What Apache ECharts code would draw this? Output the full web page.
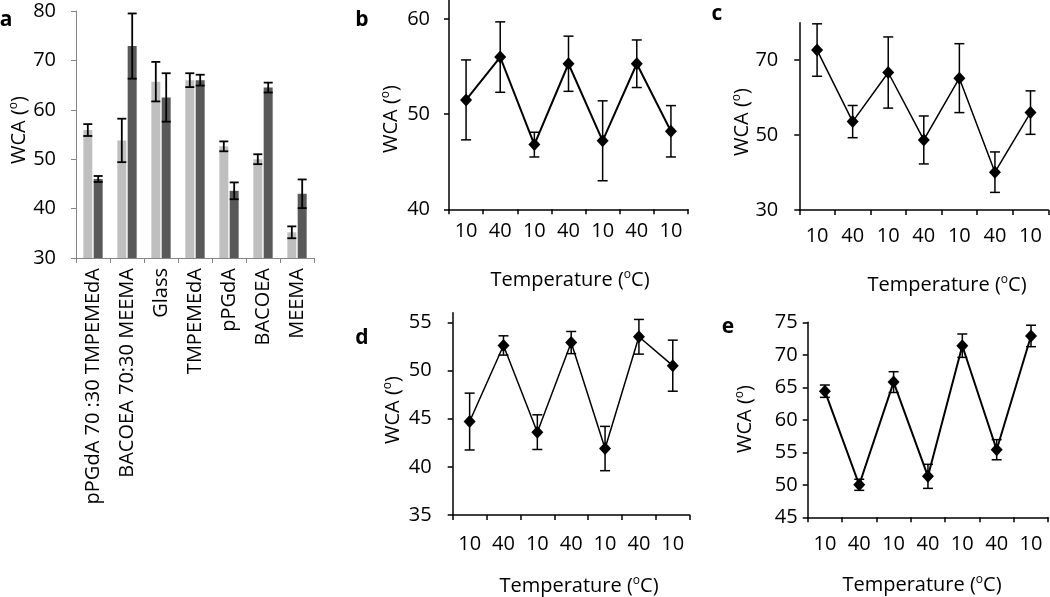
<!DOCTYPE html>
<html>
<head>
<meta charset="utf-8">
<script src="https://cdn.jsdelivr.net/npm/echarts@6/dist/echarts.min.js"></script>
<style>
html,body{margin:0;padding:0;background:#fff;}
#chart{width:1050px;height:597px;}
</style>
</head>
<body>
<div id="chart"></div>
<script>
// ---- data ----
const catsA = ['pPGdA 70 :30 TMPEMEdA', 'BACOEA 70:30 MEEMA', 'Glass', 'TMPEMEdA', 'pPGdA', 'BACOEA', 'MEEMA'];
const lightA = [55.9, 53.8, 65.7, 66.0, 52.6, 50.0, 35.2];
const lightErrA = [1.2, 4.4, 4.0, 1.4, 1.0, 1.0, 1.2];
const darkA = [46.0, 72.9, 62.5, 66.0, 43.6, 64.5, 43.0];
const darkErrA = [0.6, 6.6, 4.9, 1.1, 1.7, 1.0, 2.9];

const tempCats = ['10', '40', '10', '40', '10', '40', '10'];
const wcaB = [51.5, 56.0, 46.8, 55.3, 47.2, 55.3, 48.2];
const errB = [4.2, 3.7, 1.3, 2.9, 4.2, 2.5, 2.7];
const wcaC = [72.7, 53.6, 66.7, 48.7, 65.2, 40.1, 56.0];
const errC = [7.0, 4.3, 9.5, 6.4, 9.2, 5.4, 5.8];
const wcaD = [44.7, 52.6, 43.6, 52.9, 41.9, 53.5, 50.5];
const errD = [2.95, 1.0, 1.8, 1.15, 2.3, 1.8, 2.65];
const wcaE = [64.4, 50.0, 65.8, 51.3, 71.4, 55.4, 72.9];
const errE = [0.95, 0.85, 1.6, 1.85, 1.8, 1.55, 1.65];

// ---- styling ----
const FONT = 'Open Sans';
const FS = 20;
const chart = echarts.init(document.getElementById('chart'), null, {renderer: 'canvas'});

function errData(vals, errs) { return vals.map((v, i) => [i, v, errs[i]]); }
function errRender(offset, cap, lw) {
  return function (params, api) {
    const i = api.value(0), v = api.value(1), e = api.value(2);
    const hi = api.coord([i, v + e]);
    const lo = api.coord([i, v - e]);
    const x = hi[0] + offset;
    const st = {stroke: '#000', lineWidth: lw};
    return {type: 'group', children: [
      {type: 'line', shape: {x1: x, y1: hi[1], x2: x, y2: lo[1]}, style: st},
      {type: 'line', shape: {x1: x - cap, y1: hi[1], x2: x + cap, y2: hi[1]}, style: st},
      {type: 'line', shape: {x1: x - cap, y1: lo[1], x2: x + cap, y2: lo[1]}, style: st}
    ]};
  };
}

const grids = [
  {left: 76, top: 11, width: 238, height: 247},
  {left: 449, top: 0, width: 239, height: 209.3},
  {left: 799.3, top: 22.7, width: 249, height: 187.3},
  {left: 452.7, top: 312.7, width: 237, height: 202.3},
  {left: 807.7, top: 322.3, width: 240.5, height: 195}
];

const yRanges = [
  {min: 30, max: 80, interval: 10, margin: 20},
  {min: 40, max: 62, interval: 10, margin: 19},
  {min: 30, max: 80, interval: 20, margin: 21},
  {min: 35, max: 56, interval: 5, margin: 21},
  {min: 45, max: 75, interval: 5, margin: 10}
];
const xMargins = [10, 12, 16, 19, 17];

const xAxes = grids.map((g, k) => ({
  type: 'category', gridIndex: k,
  data: k === 0 ? catsA : tempCats,
  boundaryGap: true,
  axisLine: {lineStyle: {color: k === 0 ? '#868686' : '#000', width: k === 0 ? 1 : 1.5}},
  axisTick: {show: true, length: 5, alignWithLabel: false, interval: 0,
    lineStyle: {color: k === 0 ? '#868686' : '#000', width: k === 0 ? 1 : 1.5}},
  axisLabel: {show: true, interval: 0, rotate: k === 0 ? 90 : 0, margin: xMargins[k],
    color: '#000', fontFamily: FONT, fontSize: FS},
  splitLine: {show: false}
}));

const yAxes = grids.map((g, k) => ({
  type: 'value', gridIndex: k,
  min: yRanges[k].min, max: yRanges[k].max, interval: yRanges[k].interval,
  axisLine: {show: true, lineStyle: {color: k === 0 ? '#868686' : '#000', width: k === 0 ? 1 : 1.5}},
  axisTick: {show: true, length: 5, lineStyle: {color: k === 0 ? '#868686' : '#000', width: k === 0 ? 1 : 1.5}},
  axisLabel: {margin: yRanges[k].margin, color: '#000', fontFamily: FONT, fontSize: FS,
    showMaxLabel: (k === 0 || k === 4)},
  splitLine: {show: false}
}));

function lineSeries(k, vals, lw) {
  return {
    type: 'line', xAxisIndex: k, yAxisIndex: k, data: vals,
    symbol: 'diamond', symbolSize: [12, 13],
    lineStyle: {color: '#000', width: lw},
    itemStyle: {color: '#000'},
    animation: false, z: 3
  };
}
function errSeries(k, vals, errs, offset, cap, lw) {
  return {
    type: 'custom', xAxisIndex: k, yAxisIndex: k,
    data: errData(vals, errs), encode: {x: 0, y: 1},
    renderItem: errRender(offset, cap, lw), animation: false, z: 4
  };
}

const series = [
  {type: 'bar', xAxisIndex: 0, yAxisIndex: 0, data: lightA, barWidth: 9, barGap: '15%',
    itemStyle: {color: '#bfbfbf'}, animation: false},
  {type: 'bar', xAxisIndex: 0, yAxisIndex: 0, data: darkA, barWidth: 9, barGap: '15%',
    itemStyle: {color: '#595959'}, animation: false},
  errSeries(0, lightA, lightErrA, -5.2, 4.5, 1.8),
  errSeries(0, darkA, darkErrA, 5.2, 4.5, 1.8),
  lineSeries(1, wcaB, 2),
  errSeries(1, wcaB, errB, 0, 5, 1.5),
  lineSeries(2, wcaC, 1.5),
  errSeries(2, wcaC, errC, 0, 5, 1.5),
  lineSeries(3, wcaD, 1.5),
  errSeries(3, wcaD, errD, 0, 5, 1.5),
  lineSeries(4, wcaE, 2),
  errSeries(4, wcaE, errE, 0, 5, 1.5)
];

const richSup = {
  n: {fontFamily: FONT, fontSize: FS, color: '#000', lineHeight: 24},
  s: {fontFamily: FONT, fontSize: 12, color: '#000', verticalAlign: 'top', lineHeight: 14, padding: [1, 0, 0, 0]}
};
function wcaText(x, y) {
  return {type: 'text', x: x, y: y, rotation: Math.PI / 2,
    style: {text: '{n|WCA (}{s|o}{n|)}', rich: richSup, align: 'center', verticalAlign: 'middle'}};
}
function tempText(x, y) {
  return {type: 'text', x: x, y: y,
    style: {text: '{n|Temperature (}{s|o}{n|C)}', rich: richSup, align: 'center', verticalAlign: 'middle'}};
}
function panelLabel(t, x, y) {
  return {type: 'text', x: x, y: y,
    style: {text: t, fontFamily: FONT, fontWeight: 'bold', fontSize: 21, fill: '#000',
      align: 'center', verticalAlign: 'middle'}};
}

chart.setOption({
  animation: false,
  backgroundColor: '#fff',
  grid: grids,
  xAxis: xAxes,
  yAxis: yAxes,
  series: series,
  graphic: [
    wcaText(19, 130), wcaText(391, 119), wcaText(742, 122), wcaText(393, 410), wcaText(745, 419),
    tempText(570, 280), tempText(947, 285), tempText(579, 586), tempText(922, 585),
    panelLabel('a', 6, 20), panelLabel('b', 362, 20), panelLabel('c', 717, 14),
    panelLabel('d', 362, 338), panelLabel('e', 728, 327)
  ]
});
</script>
</body>
</html>
